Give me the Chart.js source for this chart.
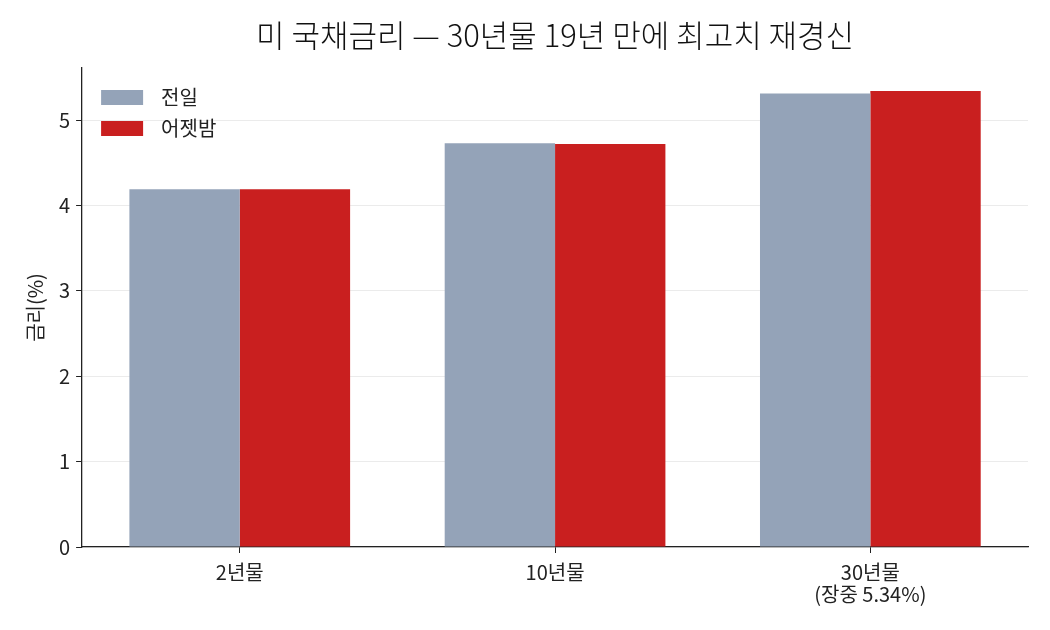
<!DOCTYPE html>
<html>
<head>
<meta charset="utf-8">
<script src="https://cdn.jsdelivr.net/npm/chart.js@4"></script>
<style>
  html, body { margin: 0; padding: 0; background: #fff; }
  #wrap { width: 1050px; height: 630px; }
</style>
</head>
<body>
<div id="wrap"><canvas id="myChart" width="1050" height="630"></canvas></div>
<script>
// data
const categories = ["2년물", "10년물", ["30년물", "(장중 5.34%)"]];
const prevDay = [4.19, 4.73, 5.31];
const lastNight = [4.19, 4.72, 5.34];
const yTicks = [0, 1, 2, 3, 4, 5];
const titleText = "미 국채금리 — 30년물 19년 만에 최고치 재경신";

const FONT = "'Noto Sans CJK KR', 'Noto Sans', sans-serif";
const AXIS = "#222";

// title centred over the plot area, legend inside the plot (upper left)
const overlay = {
  id: "overlay",
  afterDraw(chart) {
    const { ctx, chartArea } = chart;
    ctx.save();
    ctx.fillStyle = "#111";
    ctx.font = "300 31px " + FONT;
    ctx.textAlign = "center";
    ctx.textBaseline = "middle";
    ctx.fillText(titleText, (chartArea.left + chartArea.right) / 2, 35);

    ctx.font = "20px " + FONT;
    ctx.textAlign = "left";
    chart.data.datasets.forEach((ds, i) => {
      const x = chartArea.left + 19;
      const y = chartArea.top + 22 + i * 31;
      ctx.fillStyle = ds.backgroundColor;
      ctx.fillRect(x, y, 42, 15);
      ctx.fillStyle = "#222";
      ctx.fillText(ds.label, x + 60, y + 7.5);
    });
    ctx.restore();
  },
};

const ctx = document.getElementById("myChart").getContext("2d");

new Chart(ctx, {
  type: "bar",
  data: {
    labels: categories,
    datasets: [
      {
        label: "전일",
        data: prevDay,
        backgroundColor: "#94a3b8",
        categoryPercentage: 0.7,
        barPercentage: 1.0,
      },
      {
        label: "어젯밤",
        data: lastNight,
        backgroundColor: "#c91f1f",
        categoryPercentage: 0.7,
        barPercentage: 1.0,
      },
    ],
  },
  plugins: [overlay],
  options: {
    responsive: false,
    animation: false,
    devicePixelRatio: 1,
    layout: { padding: { left: 19, right: 22, top: 68, bottom: 17 } },
    plugins: {
      legend: { display: false },
      tooltip: { enabled: false },
    },
    scales: {
      x: {
        grid: {
          drawOnChartArea: false,
          drawTicks: true,
          offset: false,
          tickLength: 6,
          tickColor: AXIS,
        },
        border: { color: AXIS, width: 1.3 },
        ticks: {
          color: "#222",
          font: { family: FONT, size: 20, lineHeight: 1.1 },
          padding: 8,
        },
      },
      y: {
        min: 0,
        max: 5.61,
        z: 1,
        afterBuildTicks: (scale) => {
          scale.ticks = yTicks.map((v) => ({ value: v }));
        },
        grid: {
          color: "rgba(0,0,0,0.08)",
          tickLength: 6,
          tickColor: AXIS,
        },
        border: { color: AXIS, width: 1.3 },
        ticks: {
          color: "#222",
          font: { family: FONT, size: 20 },
          padding: 6,
        },
        title: {
          display: true,
          text: "금리(%)",
          color: "#222",
          font: { family: FONT, size: 20 },
          padding: { bottom: 6 },
        },
      },
    },
  },
});
</script>
</body>
</html>
